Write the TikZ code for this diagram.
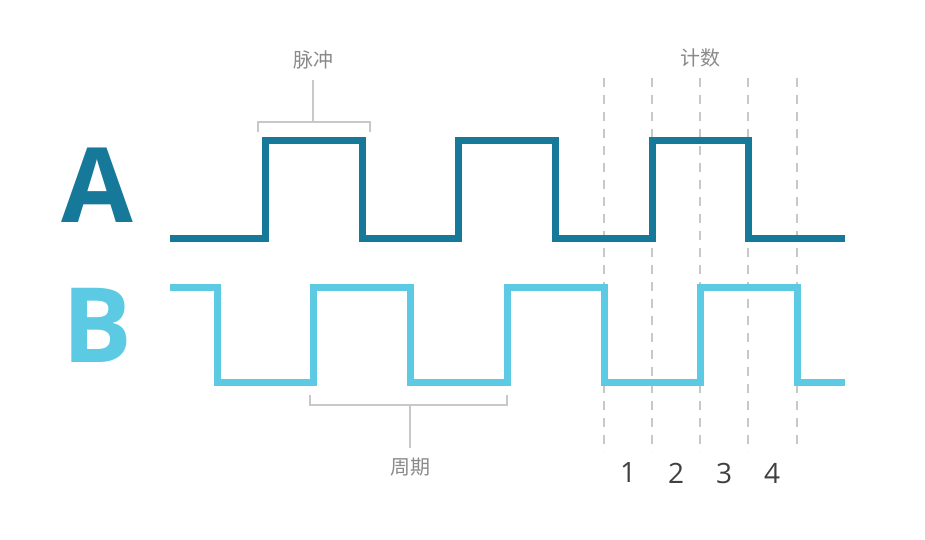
\documentclass[tikz,border=0pt]{standalone}
\usepackage{fontspec}
\setmainfont{Open Sans}
\newfontfamily\cjk{Noto Sans CJK SC}
\usetikzlibrary{positioning}
\definecolor{dark}{HTML}{16799A}
\definecolor{light}{HTML}{5BCAE2}
\definecolor{guide}{HTML}{C8C8C8}
\definecolor{txt}{HTML}{8A8A8A}
\tikzset{
  sig/.style = {line width=7pt, line join=miter},
  guideline/.style = {draw=guide, line width=2pt},
  tick/.style = {draw=guide, line width=2pt, dash pattern=on 9pt off 8pt},
  lab/.style = {font=\cjk\fontsize{20}{20}\selectfont, text=txt},
  num/.style = {font=\fontsize{28}{28}\selectfont, text=black!75},
  big/.style = {font=\bfseries\fontsize{104}{104}\selectfont}
}
\begin{document}
\begin{tikzpicture}[x=1pt,y=-1pt]
\useasboundingbox (0,0) rectangle (925,540);
% channel letters
\node [big, text=dark] (la) at (97,185) {A};
\node [big, text=light] (lb) at (97,325) {B};
% counting marks
\foreach \x in {604,652,700,748,797}
  \draw [tick] (\x,78) -- (\x,452);
\foreach \n/\x in {1/628,2/676,3/724,4/772}
  \node [num] (n\n) at (\x,473) {\n};
\node [lab] (cnt) at (700,58) {计数};
% signal A
\draw [sig, dark] (170,238) -- (265,238) -- (265,141) -- (362,141) -- (362,238)
  -- (458,238) -- (458,141) -- (555,141) -- (555,238) -- (652,238) -- (652,141)
  -- (748,141) -- (748,238) -- (845,238);
% signal B
\draw [sig, light] (170,287) -- (217,287) -- (217,382) -- (313,382) -- (313,287)
  -- (410,287) -- (410,382) -- (507,382) -- (507,287) -- (604,287) -- (604,382)
  -- (700,382) -- (700,287) -- (797,287) -- (797,382) -- (845,382);
% pulse bracket
\node [lab] (pulse) at (313,60) {脉冲};
\coordinate (ptop) at (313,80);
\draw [guideline] (258,132) -- (258,122) -- (370,122) -- (370,132);
\draw [guideline] (ptop) -- (313,122);
% period bracket
\node [lab] (period) at (410,467) {周期};
\coordinate (pbot) at (410,448);
\draw [guideline] (310,395) -- (310,405) -- (507,405) -- (507,395);
\draw [guideline] (410,405) -- (pbot);
\end{tikzpicture}
\end{document}
